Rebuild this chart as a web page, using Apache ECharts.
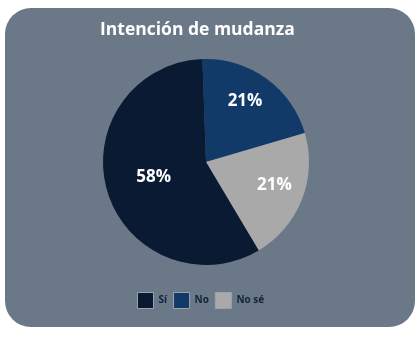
<!DOCTYPE html>
<html>
<head>
<meta charset="utf-8">
<script src="https://cdn.jsdelivr.net/npm/echarts@6/dist/echarts.min.js"></script>
<style>
  html, body { margin: 0; padding: 0; background: #fff; }
  #chart { width: 420px; height: 337px; }
</style>
</head>
<body>
<div id="chart"></div>
<script>
// datos
var categorias = ["No", "No sé", "Sí"];
var valores = [21, 21, 58];
var colores = ["#123a69", "#a9a9a9", "#0b1a33"];
var ordenLeyenda = ["Sí", "No", "No sé"];

var chart = echarts.init(document.getElementById("chart"));

var datos = categorias.map(function (c, i) {
  return {
    name: c,
    value: valores[i],
    itemStyle: { color: colores[i] },
    // las etiquetas pequeñas van en la serie exterior
    label: { show: c === "Sí" }
  };
});

var datosEtiquetas = categorias.map(function (c, i) {
  return {
    name: c,
    value: valores[i],
    label: { show: c !== "Sí" }
  };
});

var etiqueta = {
  position: "inside",
  formatter: "{c}%",
  color: "#fff",
  fontFamily: "Open Sans",
  fontWeight: "bold",
  fontSize: 17
};

var option = {
  graphic: [
    {
      type: "rect",
      z: -10,
      shape: { x: 5, y: 8, width: 410, height: 319, r: 26 },
      style: { fill: "#6b7888" }
    }
  ],
  title: {
    text: "Intención de mudanza",
    left: 95,
    top: 16,
    textStyle: {
      color: "#fff",
      fontFamily: "Open Sans",
      fontWeight: "bold",
      fontSize: 17.5
    }
  },
  legend: {
    top: 292,
    left: 137,
    padding: 0,
    itemWidth: 16,
    itemHeight: 16,
    itemGap: 6,
    selectedMode: false,
    icon: "rect",
    data: ordenLeyenda.map(function (n) {
      var i = categorias.indexOf(n);
      return {
        name: n,
        itemStyle: { color: colores[i], borderColor: "#9aa3ad", borderWidth: 1 }
      };
    }),
    textStyle: {
      color: "#13233a",
      fontFamily: "Open Sans",
      fontWeight: "bold",
      fontSize: 10
    }
  },
  series: [
    {
      type: "pie",
      center: [206, 162],
      radius: 103,
      startAngle: 92,
      clockwise: true,
      avoidLabelOverlap: false,
      silent: true,
      label: etiqueta,
      labelLine: { show: false },
      data: datos
    },
    {
      type: "pie",
      center: [206, 162],
      radius: 138,
      startAngle: 95,
      clockwise: true,
      avoidLabelOverlap: false,
      silent: true,
      legendHoverLink: false,
      itemStyle: { color: "rgba(0,0,0,0)" },
      label: etiqueta,
      labelLine: { show: false },
      data: datosEtiquetas
    }
  ]
};

chart.setOption(option);
</script>
</body>
</html>
